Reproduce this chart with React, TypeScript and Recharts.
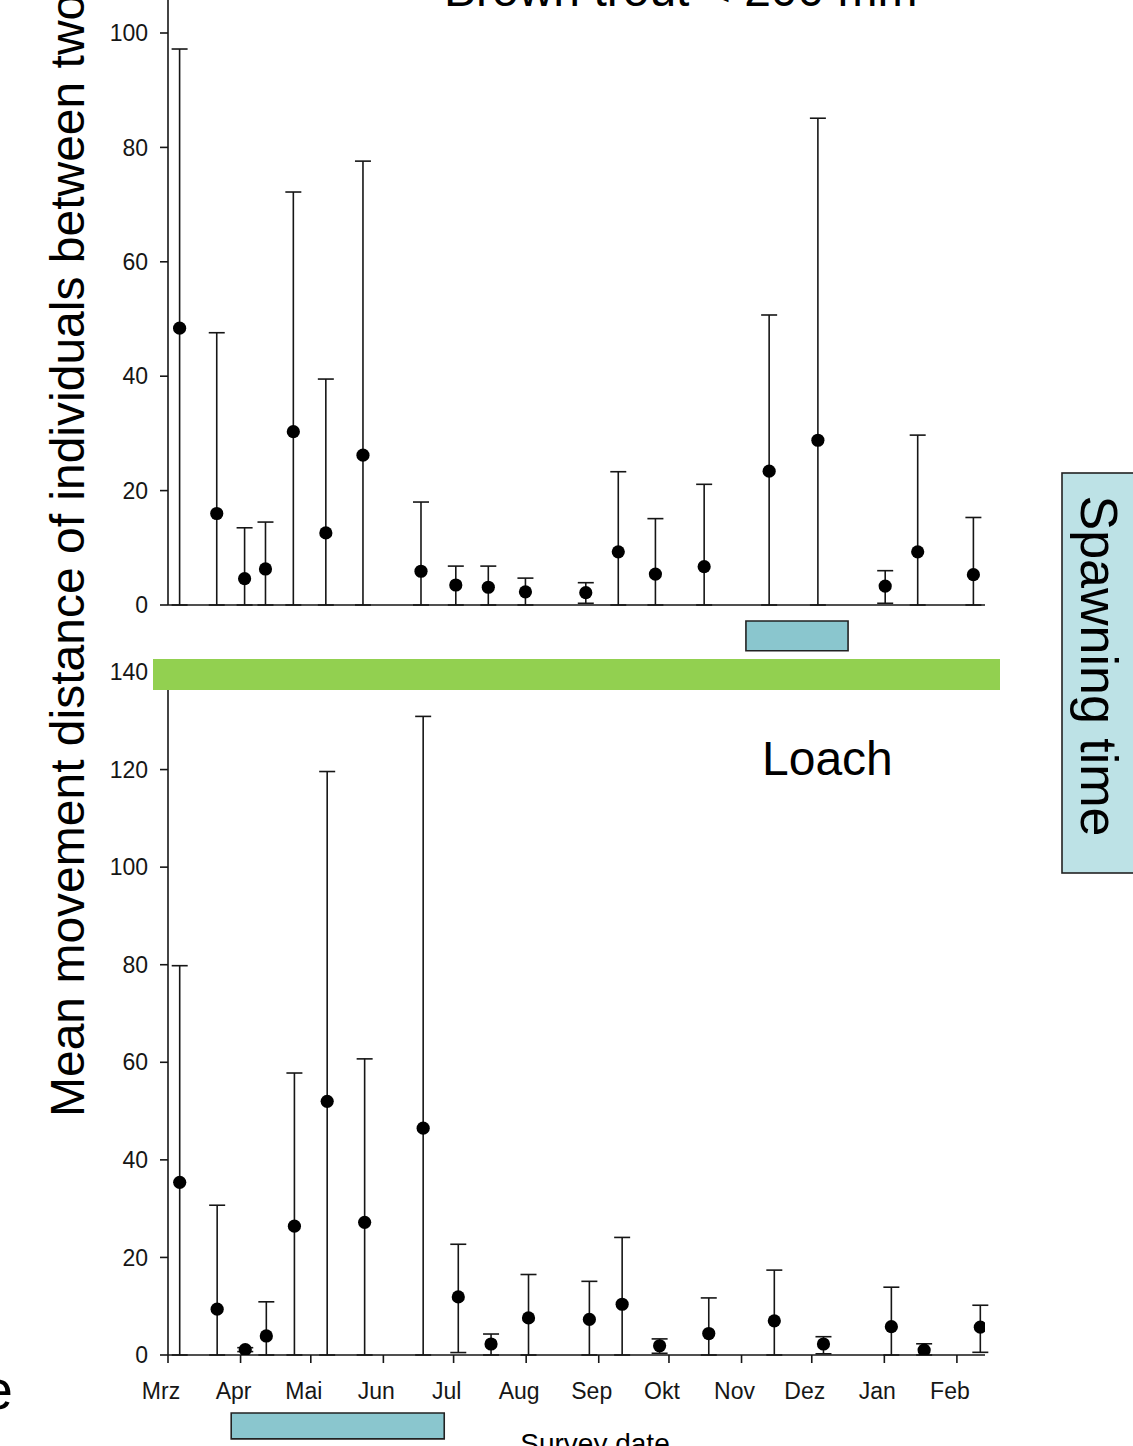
import React from 'react';
import { ScatterChart, Scatter, XAxis, YAxis, ErrorBar, ReferenceArea } from 'recharts';

const FONT = '"Liberation Sans", Arial, Helvetica, sans-serif';
const INK = '#161616';

// Survey dates as days since 1 March
const surveyDay = [5, 21, 33, 42, 54, 68, 84, 109, 124, 138, 154, 180, 194, 210, 231, 259, 280, 309, 323, 347];
const monthTicks = [0, 31, 61, 92, 122, 153, 184, 214, 245, 275, 306, 337];
const monthLabels = ['Mrz', 'Apr', 'Mai', 'Jun', 'Jul', 'Aug', 'Sep', 'Okt', 'Nov', 'Dez', 'Jan', 'Feb'];

// Brown trout < 200 mm
const troutMean = [48.4, 16.0, 4.6, 6.3, 30.3, 12.6, 26.2, 5.9, 3.5, 3.1, 2.3, 2.15, 9.3, 5.4, 6.7, 23.4, 28.8, 3.3, 9.3, 5.3];
const troutUpper = [97.2, 47.6, 13.5, 14.5, 72.2, 39.5, 77.6, 18.0, 6.8, 6.8, 4.7, 3.9, 23.3, 15.1, 21.1, 50.7, 85.1, 6.0, 29.7, 15.3];
const troutLower = [0, 0, 0, 0, 0, 0, 0, 0, 0, 0, 0, 0.3, 0, 0, 0, 0, 0, 0.3, 0, 0];
const troutYTicks = [0, 20, 40, 60, 80, 100];
const troutSpawn = [249, 293];

// Loach
const loachMean = [35.4, 9.4, 1.1, 3.9, 26.4, 52.0, 27.2, 46.5, 11.9, 2.25, 7.6, 7.3, 10.4, 1.9, 4.4, 7.0, 2.25, 5.8, 1.0, 5.7];
const loachUpper = [79.8, 30.7, 1.5, 10.9, 57.8, 119.6, 60.7, 130.9, 22.7, 4.3, 16.5, 15.1, 24.1, 3.3, 11.7, 17.4, 3.75, 13.9, 2.3, 10.2];
const loachLower = [0, 0, 0.7, 0, 0, 0, 0, 0, 0.5, 0, 0, 0, 0, 0.35, 0, 0, 0.25, 0, 0, 0.55];
const loachYTicks = [0, 20, 40, 60, 80, 100, 120, 140];
const loachSpawn = [27, 118];

const build = (mean: number[], upper: number[], lower: number[]) =>
  surveyDay.map((d, i) => ({ day: d, mean: mean[i], err: [mean[i] - lower[i], upper[i] - mean[i]] }));

const troutData = build(troutMean, troutUpper, troutLower);
const loachData = build(loachMean, loachUpper, loachLower);

const Dot = (p: any) => <circle cx={p.cx} cy={p.cy} r={6.6} fill="#000" />;

const MonthTick = (p: any) => {
  const idx = monthTicks.indexOf(p.payload.value);
  return (
    <text x={p.x - 7} y={p.y} dy="0.71em" textAnchor="middle" fontSize={23} fill={INK} fontFamily={FONT}>
      {monthLabels[idx]}
    </text>
  );
};

const axisStyle = { stroke: INK, strokeWidth: 1.6 };

export default function App() {
  return (
    <div style={{ position: 'absolute', left: 0, top: 0, width: 1133, height: 1446, overflow: 'hidden', background: '#fff', fontFamily: FONT }}>
      {/* Brown trout panel */}
      <div style={{ position: 'absolute', left: 0, top: -40 }}>
        <ScatterChart width={1000} height={740} margin={{ top: 15.8, right: 15, bottom: 65, left: 0 }}>
          <XAxis
            type="number"
            dataKey="day"
            domain={[0, 352]}
            ticks={monthTicks}
            interval={0}
            allowDataOverflow
            height={30}
            tickSize={8}
            tick={false}
            axisLine={axisStyle}
            tickLine={axisStyle}
          />
          <YAxis
            type="number"
            dataKey="mean"
            domain={[0, 110]}
            ticks={troutYTicks}
            interval={0}
            allowDataOverflow
            width={168}
            tickSize={8}
            tickMargin={12}
            axisLine={axisStyle}
            tickLine={axisStyle}
            tick={{ fontSize: 23, fill: INK, fontFamily: FONT }}
          />
          <ReferenceArea
            x1={troutSpawn[0]}
            x2={troutSpawn[1]}
            y1={-2.8}
            y2={-8.0}
            ifOverflow="visible"
            fill="#8AC6CE"
            fillOpacity={1}
            stroke="#222"
            strokeWidth={1.6}
          />
          <Scatter data={troutData} dataKey="mean" shape={Dot} isAnimationActive={false}>
            <ErrorBar dataKey="err" direction="y" width={8} stroke={INK} strokeWidth={1.6} isAnimationActive={false} />
          </Scatter>
        </ScatterChart>
      </div>

      {/* Loach panel */}
      <div style={{ position: 'absolute', left: 0, top: 640 }}>
        <ScatterChart width={1000} height={830} margin={{ top: 32, right: 15, bottom: 55, left: 0 }}>
          <XAxis
            type="number"
            dataKey="day"
            domain={[0, 349]}
            ticks={monthTicks}
            interval={0}
            allowDataOverflow
            height={60}
            tickSize={8}
            tickMargin={20}
            tick={MonthTick}
            axisLine={axisStyle}
            tickLine={axisStyle}
          />
          <YAxis
            type="number"
            dataKey="mean"
            domain={[0, 140]}
            ticks={loachYTicks}
            interval={0}
            allowDataOverflow
            width={168}
            tickSize={8}
            tickMargin={12}
            axisLine={axisStyle}
            tickLine={axisStyle}
            tick={{ fontSize: 23, fill: INK, fontFamily: FONT }}
          />
          <ReferenceArea
            x1={loachSpawn[0]}
            x2={loachSpawn[1]}
            y1={-11.9}
            y2={-17.2}
            ifOverflow="visible"
            fill="#8AC6CE"
            fillOpacity={1}
            stroke="#222"
            strokeWidth={1.6}
          />
          <Scatter data={loachData} dataKey="mean" shape={Dot} isAnimationActive={false}>
            <ErrorBar dataKey="err" direction="y" width={8} stroke={INK} strokeWidth={1.6} isAnimationActive={false} />
          </Scatter>
        </ScatterChart>
      </div>

      {/* Annotations */}
      <svg width={1133} height={1446} style={{ position: 'absolute', left: 0, top: 0, pointerEvents: 'none' }} fontFamily={FONT}>
        <text x={444} y={5.5} fontSize={48} fill="#000">Brown trout &lt; 200 mm</text>
        <text x={762} y={775} fontSize={48} fill="#000">Loach</text>
        <text x={84} y={1117} fontSize={48} fill="#000" transform="rotate(-90 84 1117)">
          Mean movement distance of individuals between two
        </text>
        <rect x={153} y={659} width={847} height={31} fill="#92D050" />
        <rect x={1062} y={473} width={90} height={400} fill="#BDE2E6" stroke="#222" strokeWidth={1.6} />
        <text x={1081} y={666} fontSize={52} fill="#000" textAnchor="middle" transform="rotate(90 1081 666)">
          Spawning time
        </text>
        <text x={595} y={1453} fontSize={28} fill="#000" textAnchor="middle">Survey date</text>
        <text x={13} y={1409} fontSize={56} fill="#000" textAnchor="end">e</text>
      </svg>
    </div>
  );
}
